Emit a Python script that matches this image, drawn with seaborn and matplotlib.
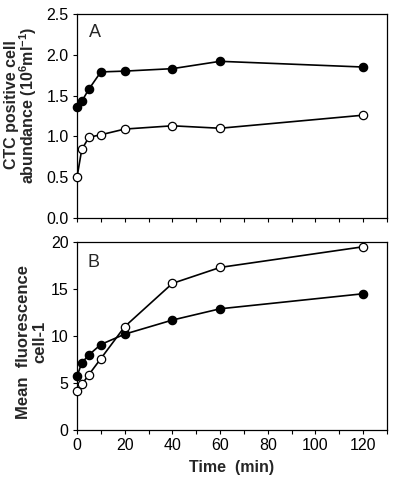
import pandas as pd
import matplotlib.pyplot as plt
import matplotlib.ticker as mticker
import seaborn as sns

sns.set_style('ticks')
plt.rcParams['font.family'] = ['Liberation Sans', 'DejaVu Sans']
plt.rcParams['mathtext.fontset'] = 'custom'
plt.rcParams['mathtext.rm'] = 'Liberation Sans'
plt.rcParams['mathtext.bf'] = 'Liberation Sans:bold'

# sampling times (min)
time = [0, 2, 5, 10, 20, 40, 60, 120]

# panel A: CTC positive cell abundance
abund_filled = [1.36, 1.43, 1.58, 1.79, 1.80, 1.83, 1.92, 1.85]
abund_open = [0.50, 0.84, 0.99, 1.02, 1.09, 1.13, 1.10, 1.26]

# panel B: mean fluorescence per cell
fluor_filled = [5.7, 7.15, 8.0, 9.1, 10.2, 11.7, 12.9, 14.5]
fluor_open = [4.1, 4.85, 5.9, 7.6, 11.0, 15.6, 17.3, 19.5]

fig = plt.figure(figsize=(4, 4.9), dpi=100)
ax_a = fig.add_axes([0.1925, 0.555, 0.775, 0.4165])
ax_b = fig.add_axes([0.1925, 0.1224, 0.775, 0.3836])


def draw(ax, filled, opened):
    for vals, face in [(filled, 'black'), (opened, 'white')]:
        d = pd.DataFrame({'time': time, 'value': vals})
        sns.lineplot(data=d, x='time', y='value', ax=ax, color='black',
                     linewidth=1.2, marker='o', markersize=6,
                     markerfacecolor=face, markeredgecolor='black',
                     markeredgewidth=0.9, clip_on=False, zorder=3)
    ax.set_xlim(0, 130)
    ax.xaxis.set_major_locator(mticker.MultipleLocator(20))
    ax.xaxis.set_minor_locator(mticker.MultipleLocator(10))
    ax.tick_params(which='both', direction='out', length=3, width=0.8,
                   labelsize=11.5, color='black', labelcolor='black', pad=3)
    for s in ax.spines.values():
        s.set_visible(True)
        s.set_linewidth(0.9)
        s.set_color('black')
    ax.set_ylabel('')


draw(ax_a, abund_filled, abund_open)
ax_a.set_ylim(0, 2.5)
ax_a.yaxis.set_major_locator(mticker.MultipleLocator(0.5))
ax_a.yaxis.set_major_formatter(mticker.FormatStrFormatter('%.1f'))
ax_a.set_xticklabels([])
ax_a.set_xlabel('')
ax_a.text(0.04, 0.887, 'A', transform=ax_a.transAxes, fontsize=13,
          va='baseline', ha='left')
fig.text(0.053, 0.786, 'CTC positive cell\nabundance (10$^{\\mathbf{6}}$ml$^{\\mathbf{-1}}$)',
         rotation=90, ha='center', va='center', multialignment='center',
         fontsize=11.5, fontweight='bold', linespacing=0.88)

draw(ax_b, fluor_filled, fluor_open)
ax_b.set_ylim(0, 20)
ax_b.yaxis.set_major_locator(mticker.MultipleLocator(5))
ax_b.set_xlabel('Time  (min)', fontsize=11.5, fontweight='bold', labelpad=5)
ax_b.text(0.035, 0.867, 'B', transform=ax_b.transAxes, fontsize=13,
          va='baseline', ha='left')
fig.text(0.079, 0.302, 'Mean  fluorescence\ncell-1',
         rotation=90, ha='center', va='center', multialignment='center',
         fontsize=12, fontweight='bold', linespacing=1.15)

fig.savefig('out.png', dpi=100)
